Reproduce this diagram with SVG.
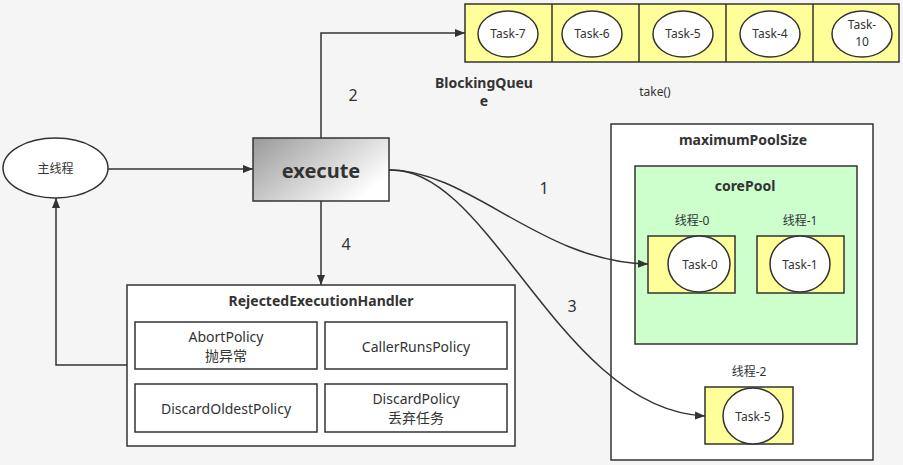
<svg xmlns="http://www.w3.org/2000/svg" width="903" height="465" viewBox="0 0 903 465">
<defs>
<linearGradient id="g" x1="0" y1="0" x2="1" y2="0.6">
<stop offset="0" stop-color="#999999"/>
<stop offset="1" stop-color="#ffffff"/>
</linearGradient>
<marker id="a" viewBox="0 0 10 10" refX="10" refY="5" markerWidth="10" markerHeight="10" markerUnits="userSpaceOnUse" orient="auto">
<path d="M0,1 L10,5 L0,9 Z" fill="#333"/>
</marker>
<style>
text{font-family:"Noto Sans","Noto Sans CJK SC",sans-serif;fill:#333;text-anchor:middle}
.b{stroke:#333;stroke-width:1.5}
.y{fill:#ffff99}
.w{fill:#fff}
.t{font-size:12px}
.p{font-size:14px}
.h{font-size:14px;font-weight:bold}
.n{font-size:16px}
.c{fill:none;stroke:#333;stroke-width:1.5}
</style>
</defs>
<rect width="903" height="465" fill="#f5f5f5"/>
<g id="queue">
<rect class="b y" x="465" y="4" width="434" height="58"/>
<line class="b" x1="552" y1="4" x2="552" y2="62"/>
<line class="b" x1="639" y1="4" x2="639" y2="62"/>
<line class="b" x1="726" y1="4" x2="726" y2="62"/>
<line class="b" x1="813" y1="4" x2="813" y2="62"/>
<ellipse class="b w" cx="508" cy="34" rx="30" ry="23"/>
<text class="t" x="508" y="38">Task-7</text>
<ellipse class="b w" cx="592" cy="34" rx="30" ry="23"/>
<text class="t" x="592" y="38">Task-6</text>
<ellipse class="b w" cx="683" cy="34" rx="30" ry="23"/>
<text class="t" x="683" y="38">Task-5</text>
<ellipse class="b w" cx="770" cy="34" rx="30" ry="23"/>
<text class="t" x="770" y="38">Task-4</text>
<ellipse class="b w" cx="862" cy="34" rx="30" ry="23"/>
<text class="t" x="862" y="29">Task-</text>
<text class="t" x="862" y="46">10</text>
<text class="h" x="484" y="88">BlockingQueu</text>
<text class="h" x="484" y="106">e</text>
<text class="t" x="655" y="96">take()</text>
</g>
<g id="main">
<ellipse class="b w" cx="55.5" cy="168" rx="52.5" ry="30"/>
<text class="t" x="55.5" y="173">主线程</text>
</g>
<g id="execute">
<rect class="b" x="253" y="138" width="136" height="63" fill="url(#g)"/>
<text x="321" y="178" style="font-size:20px;font-weight:bold">execute</text>
</g>
<g id="handler">
<rect class="b w" x="127" y="285" width="388" height="161"/>
<text class="h" x="321" y="306">RejectedExecutionHandler</text>
<rect class="b w" x="135" y="322" width="182" height="47"/>
<text class="p" x="226" y="342">AbortPolicy</text>
<text class="p" x="226" y="361">抛异常</text>
<rect class="b w" x="325" y="322" width="182" height="47"/>
<text class="p" x="416" y="352">CallerRunsPolicy</text>
<rect class="b w" x="135" y="384" width="182" height="48"/>
<text class="p" x="226" y="414">DiscardOldestPolicy</text>
<rect class="b w" x="325" y="384" width="182" height="48"/>
<text class="p" x="416" y="404">DiscardPolicy</text>
<text class="p" x="416" y="423">丢弃任务</text>
</g>
<g id="pool">
<rect class="b w" x="611" y="124" width="262" height="336"/>
<text class="h" x="743" y="145">maximumPoolSize</text>
</g>
<g id="core">
<rect class="b" x="635" y="166" width="222" height="178" fill="#ccffcc"/>
<text class="h" x="745" y="191">corePool</text>
</g>
<g id="t0">
<text class="t" x="692" y="225">线程-0</text>
<rect class="b y" x="648" y="236" width="87" height="57"/>
<ellipse class="b w" cx="699" cy="264" rx="31" ry="28"/>
<text class="t" x="700" y="269">Task-0</text>
</g>
<g id="t1">
<text class="t" x="800" y="225">线程-1</text>
<rect class="b y" x="757" y="236" width="87" height="57"/>
<ellipse class="b w" cx="800" cy="264" rx="30" ry="28"/>
<text class="t" x="800" y="269">Task-1</text>
</g>
<g id="t2">
<text class="t" x="749" y="376">线程-2</text>
<rect class="b y" x="705" y="387" width="88" height="57"/>
<ellipse class="b w" cx="753" cy="416" rx="30" ry="28"/>
<text class="t" x="753" y="421">Task-5</text>
</g>
<g id="connectors">
<path class="c" d="M108,169 L253,169" marker-end="url(#a)"/>
<path class="c" d="M321,138 L321,33 L465,33" marker-end="url(#a)"/>
<path class="c" d="M321,201 L321,285" marker-end="url(#a)"/>
<path class="c" d="M127,365 L56,365 L56,198" marker-end="url(#a)"/>
<path class="c" d="M389,170 C470,170 540,262 648,264" marker-end="url(#a)"/>
<path class="c" d="M389,170 C490,165 560,410 705,416" marker-end="url(#a)"/>
<text class="n" x="353" y="101">2</text>
<text class="n" x="346" y="250">4</text>
<text class="n" x="544" y="194">1</text>
<text class="n" x="572" y="312">3</text>
</g>
</svg>
